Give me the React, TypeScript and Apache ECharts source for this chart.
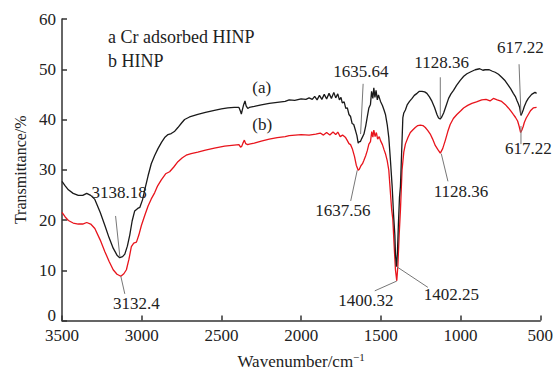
import React, { useEffect, useRef } from "react";
import * as echarts from "echarts";

// Curve a: Cr adsorbed HINP (black)
const wavenumbersA = [
  3500, 3480, 3460, 3430, 3398, 3370, 3345, 3320, 3294, 3260, 3231, 3205, 3179, 3155, 3138, 3120, 3106, 3090, 3075, 3060,
  3044, 3025, 3012, 2995, 2981, 2960, 2940, 2918, 2898, 2875, 2856, 2835, 2815, 2795, 2773, 2750, 2731, 2700, 2648, 2600,
  2544, 2500, 2460, 2420, 2390, 2380, 2375, 2368, 2360, 2352, 2345, 2335, 2325, 2294, 2250, 2200, 2150, 2100, 2075, 2040,
  2000, 1970, 1950, 1930, 1915, 1900, 1885, 1870, 1855, 1840, 1825, 1810, 1795, 1783, 1770, 1760, 1750, 1742, 1730, 1720,
  1710, 1700, 1690, 1680, 1670, 1658, 1650, 1642, 1635, 1628, 1620, 1606, 1595, 1585, 1575, 1565, 1558, 1550, 1544, 1537,
  1530, 1522, 1515, 1502, 1490, 1480, 1471, 1460, 1450, 1440, 1429, 1420, 1412, 1408, 1402, 1396, 1390, 1383, 1377, 1370,
  1362, 1356, 1346, 1335, 1320, 1304, 1290, 1273, 1258, 1242, 1225, 1211, 1195, 1179, 1163, 1148, 1138, 1128, 1118, 1106,
  1090, 1075, 1060, 1044, 1025, 1002, 980, 960, 935, 908, 880, 860, 846, 820, 800, 783, 762, 742, 720, 700,
  685, 669, 655, 645, 638, 630, 621, 614, 607, 600, 588, 575, 554, 533, 523,
];
const transmittanceA = [
  27.7, 26.8, 26.0, 25.3, 24.9, 24.9, 25.3, 24.9, 24.1, 21.5, 18.9, 16.5, 14.4, 13.0, 12.5, 12.7, 13.2, 14.8, 17.0, 19.8,
  21.8, 22.3, 22.5, 24.0, 26.0, 28.8, 31.2, 32.9, 34.2, 35.5, 36.4, 37.0, 37.2, 37.6, 38.4, 39.3, 40.0, 40.5, 41.0, 41.4,
  41.8, 42.1, 42.3, 42.4, 42.4, 41.6, 41.1, 42.0, 43.0, 43.7, 42.7, 42.2, 42.4, 42.6, 42.9, 43.2, 43.4, 43.6, 43.9, 43.8,
  44.1, 44.0, 44.3, 44.0, 44.6, 43.9, 44.8, 44.0, 45.0, 44.1, 45.2, 44.2, 45.4, 44.3, 45.1, 43.9, 44.4, 43.3, 43.5, 42.2,
  42.3, 41.0, 40.6, 39.2, 39.0, 37.7, 36.8, 35.3, 35.6, 35.6, 36.2, 37.1, 38.7, 40.5, 42.3, 43.0, 45.6, 44.2, 46.3, 44.4,
  45.8, 43.9, 44.9, 43.6, 42.8, 41.9, 41.0, 39.0, 36.4, 32.0, 26.7, 21.0, 17.0, 13.0, 10.7, 13.5, 19.0, 24.5, 26.7, 33.0,
  40.3, 41.3, 41.9, 42.9, 43.6, 44.2, 44.8, 45.2, 45.6, 45.6, 45.5, 45.2, 44.5, 43.6, 42.4, 41.0, 40.3, 40.1, 40.5, 41.3,
  42.8, 44.2, 45.1, 45.8, 46.8, 47.8, 48.6, 49.1, 49.5, 49.9, 50.1, 49.8, 49.9, 49.9, 49.6, 49.4, 49.0, 48.4, 47.7, 46.8,
  46.1, 45.2, 44.5, 43.7, 43.2, 42.5, 40.8, 41.3, 41.9, 42.6, 43.5, 44.2, 45.0, 45.4, 45.2,
];

// Curve b: HINP (red)
const wavenumbersB = [
  3500, 3480, 3460, 3430, 3398, 3370, 3345, 3320, 3294, 3260, 3231, 3205, 3179, 3155, 3131, 3112, 3096, 3080, 3065, 3050,
  3033, 3018, 3002, 2980, 2960, 2940, 2919, 2900, 2877, 2850, 2825, 2800, 2773, 2745, 2721, 2690, 2648, 2600, 2544, 2480,
  2420, 2390, 2380, 2372, 2365, 2356, 2348, 2335, 2325, 2294, 2250, 2200, 2150, 2100, 2075, 2000, 1950, 1908, 1880, 1860,
  1840, 1820, 1800, 1783, 1770, 1755, 1740, 1721, 1710, 1700, 1690, 1679, 1665, 1654, 1642, 1635, 1625, 1615, 1606, 1595,
  1585, 1575, 1565, 1557, 1550, 1544, 1536, 1528, 1520, 1510, 1502, 1490, 1480, 1471, 1460, 1450, 1440, 1432, 1425, 1415,
  1408, 1400, 1393, 1385, 1377, 1367, 1356, 1346, 1330, 1315, 1300, 1284, 1268, 1252, 1236, 1221, 1205, 1190, 1175, 1158,
  1142, 1127, 1112, 1096, 1080, 1065, 1045, 1023, 1000, 981, 955, 929, 900, 867, 840, 815, 794, 770, 742, 720,
  700, 685, 669, 655, 642, 632, 623, 615, 607, 600, 588, 575, 560, 544, 523,
];
const transmittanceB = [
  21.5, 20.6, 19.9, 19.4, 19.2, 19.2, 19.5, 19.2, 18.3, 16.0, 13.7, 11.8, 10.1, 9.2, 8.8, 9.3, 10.1, 12.2, 14.7, 15.4,
  15.6, 17.0, 18.9, 21.0, 22.8, 24.2, 25.4, 26.8, 28.0, 29.2, 29.6, 30.5, 31.6, 32.4, 32.9, 33.2, 33.5, 33.9, 34.3, 34.7,
  34.9, 35.0, 34.5, 34.7, 35.3, 35.9, 35.2, 35.0, 35.1, 35.3, 35.7, 36.1, 36.4, 36.6, 36.8, 37.0, 36.9, 37.1, 37.3, 36.9,
  37.4, 36.9, 37.5, 37.0, 37.5, 36.6, 36.9, 36.4, 35.8, 35.2, 35.0, 34.2, 32.6, 30.9, 29.9, 30.1, 30.8, 31.2, 31.9, 32.8,
  33.8, 35.1, 35.6, 37.6, 36.5, 37.9, 36.6, 37.4, 36.1, 36.6, 35.8, 35.0, 34.0, 33.2, 31.8, 29.9, 25.5, 22.0, 20.2, 14.0,
  10.0, 7.9, 11.0, 17.0, 22.0, 29.9, 33.5, 35.1, 36.4, 37.4, 37.9, 38.4, 38.8, 38.9, 38.8, 38.4, 37.8, 37.1, 36.1, 34.8,
  34.0, 33.3, 34.2, 35.8, 37.6, 39.0, 40.2, 41.0, 41.7, 42.3, 42.8, 43.2, 43.5, 43.9, 44.0, 43.7, 44.2, 43.9, 43.6, 43.0,
  42.3, 41.7, 41.0, 40.4, 39.7, 38.6, 37.4, 37.9, 38.6, 39.4, 40.3, 41.0, 41.8, 42.3, 42.4,
];

const xTicks = [3500, 3000, 2500, 2000, 1500, 1000, 500];
const yTicks = [0, 10, 20, 30, 40, 50, 60];

const legendLines = ["a Cr adsorbed HINP", "b HINP"];

// Peak annotations: label text, label centre (data coords), leader line (data coords)
const annotations = [
  { text: "3138.18", at: [3141, 25.4], line: [3164, 20.8, 3137, 12.7] },
  { text: "3132.4", at: [3033, 3.3], line: [3131, 8.8, 3106, 5.3] },
  { text: "1635.64", at: [1625, 49.5], line: [1611, 47.1, 1627, 37.1] },
  { text: "1637.56", at: [1738, 21.8], line: [1689, 23.8, 1648, 29.9] },
  { text: "1128.36", at: [1119, 51.4], line: [1127, 48.4, 1127, 40.3] },
  { text: "1128.36", at: [997, 25.7], line: [1121, 33.2, 1079, 27.7] },
  { text: "617.22", at: [625, 54.3], line: [633, 51.0, 621, 41.0] },
  { text: "617.22", at: [575, 34.2], line: [621, 38.7, 621, 35.1] },
  { text: "1400.32", at: [1594, 4.0], line: [1400, 7.85, 1538, 5.9] },
  { text: "1402.25", at: [1058, 5.1], line: [1400, 10.7, 1205, 6.6] },
  { text: "(a)", at: [2247, 46.3], line: null },
  { text: "(b)", at: [2244, 39.0], line: null },
];

const FONT = "Liberation Serif";
const TXT = "#222";

export default function App() {
  const ref = useRef<HTMLDivElement>(null);

  useEffect(() => {
    if (!ref.current) return;
    const chart = echarts.init(ref.current, null, { renderer: "svg" });
    const dataA = wavenumbersA.map((w, i) => [w, transmittanceA[i]]);
    const dataB = wavenumbersB.map((w, i) => [w, transmittanceB[i]]);

    chart.setOption({
      animation: false,
      backgroundColor: "#fff",
      textStyle: { fontFamily: FONT },
      grid: { left: 62, right: 14, top: 19, bottom: 48, containLabel: false },
      xAxis: {
        type: "value",
        inverse: true,
        min: xTicks[xTicks.length - 1],
        max: xTicks[0],
        interval: 500,
        axisLine: { show: true, onZero: false, lineStyle: { color: "#333", width: 1.5 } },
        axisTick: { show: true, inside: true, length: 5, lineStyle: { color: "#333", width: 1.5 } },
        axisLabel: {
          fontSize: 17,
          fontFamily: FONT,
          color: TXT,
          margin: 6,
          lineHeight: 17,
          formatter: (v: number) => String(v),
        },
        splitLine: { show: false },
        name: "{a|Wavenumber/cm}{s|−1}",
        nameLocation: "middle",
        nameGap: 31,
        nameTextStyle: {
          fontFamily: FONT,
          rich: {
            a: { fontSize: 17, fontFamily: FONT, color: TXT },
            s: { fontSize: 11, fontFamily: FONT, color: TXT, padding: [0, 0, 9, 0] },
          },
        },
      },
      yAxis: {
        type: "value",
        min: yTicks[0],
        max: yTicks[yTicks.length - 1],
        interval: 10,
        axisLine: { show: true, lineStyle: { color: "#333", width: 1.5 } },
        axisTick: { show: true, inside: true, length: 5, lineStyle: { color: "#333", width: 1.5 } },
        axisLabel: {
          fontSize: 17,
          fontFamily: FONT,
          color: TXT,
          margin: 6,
          formatter: (v: number) => (v === 0 ? "{z|0}" : String(v)),
          rich: {
            z: { fontSize: 17, fontFamily: FONT, color: TXT, padding: [0, 0, 10, 0] },
          },
        },
        splitLine: { show: false },
        name: "Transmittance/%",
        nameLocation: "middle",
        nameGap: 34,
        nameTextStyle: { fontSize: 16, fontFamily: FONT, color: TXT },
      },
      series: [
        {
          name: "a",
          type: "line",
          data: dataA,
          showSymbol: false,
          symbol: "none",
          lineStyle: { color: "#1a1a1a", width: 1.3 },
          z: 3,
        },
        {
          name: "b",
          type: "line",
          data: dataB,
          showSymbol: false,
          symbol: "none",
          lineStyle: { color: "#e8141c", width: 1.3 },
          z: 2,
        },
      ],
    });

    const px = (w: number, v: number) =>
      chart.convertToPixel({ xAxisIndex: 0, yAxisIndex: 0 }, [w, v]) as number[];

    const graphics: any[] = [];
    annotations.forEach((a) => {
      if (a.line) {
        const p1 = px(a.line[0], a.line[1]);
        const p2 = px(a.line[2], a.line[3]);
        graphics.push({
          type: "line",
          shape: { x1: p1[0], y1: p1[1], x2: p2[0], y2: p2[1] },
          style: { stroke: "#777", lineWidth: 1 },
          z: 10,
        });
      }
      const p = px(a.at[0], a.at[1]);
      graphics.push({
        type: "text",
        x: p[0],
        y: p[1],
        style: {
          text: a.text,
          fontSize: 17,
          fontFamily: FONT,
          fill: TXT,
          align: "center",
          verticalAlign: "middle",
        },
        z: 11,
      });
    });
    legendLines.forEach((t, i) => {
      graphics.push({
        type: "text",
        x: 108,
        y: 37 + i * 23.5,
        style: {
          text: t,
          fontSize: 18,
          fontFamily: FONT,
          fill: TXT,
          align: "left",
          verticalAlign: "middle",
        },
        z: 11,
      });
    });
    chart.setOption({ graphic: graphics });

    return () => chart.dispose();
  }, []);

  return <div ref={ref} style={{ width: 556, height: 375, position: "absolute", left: 0, top: 0 }} />;
}
